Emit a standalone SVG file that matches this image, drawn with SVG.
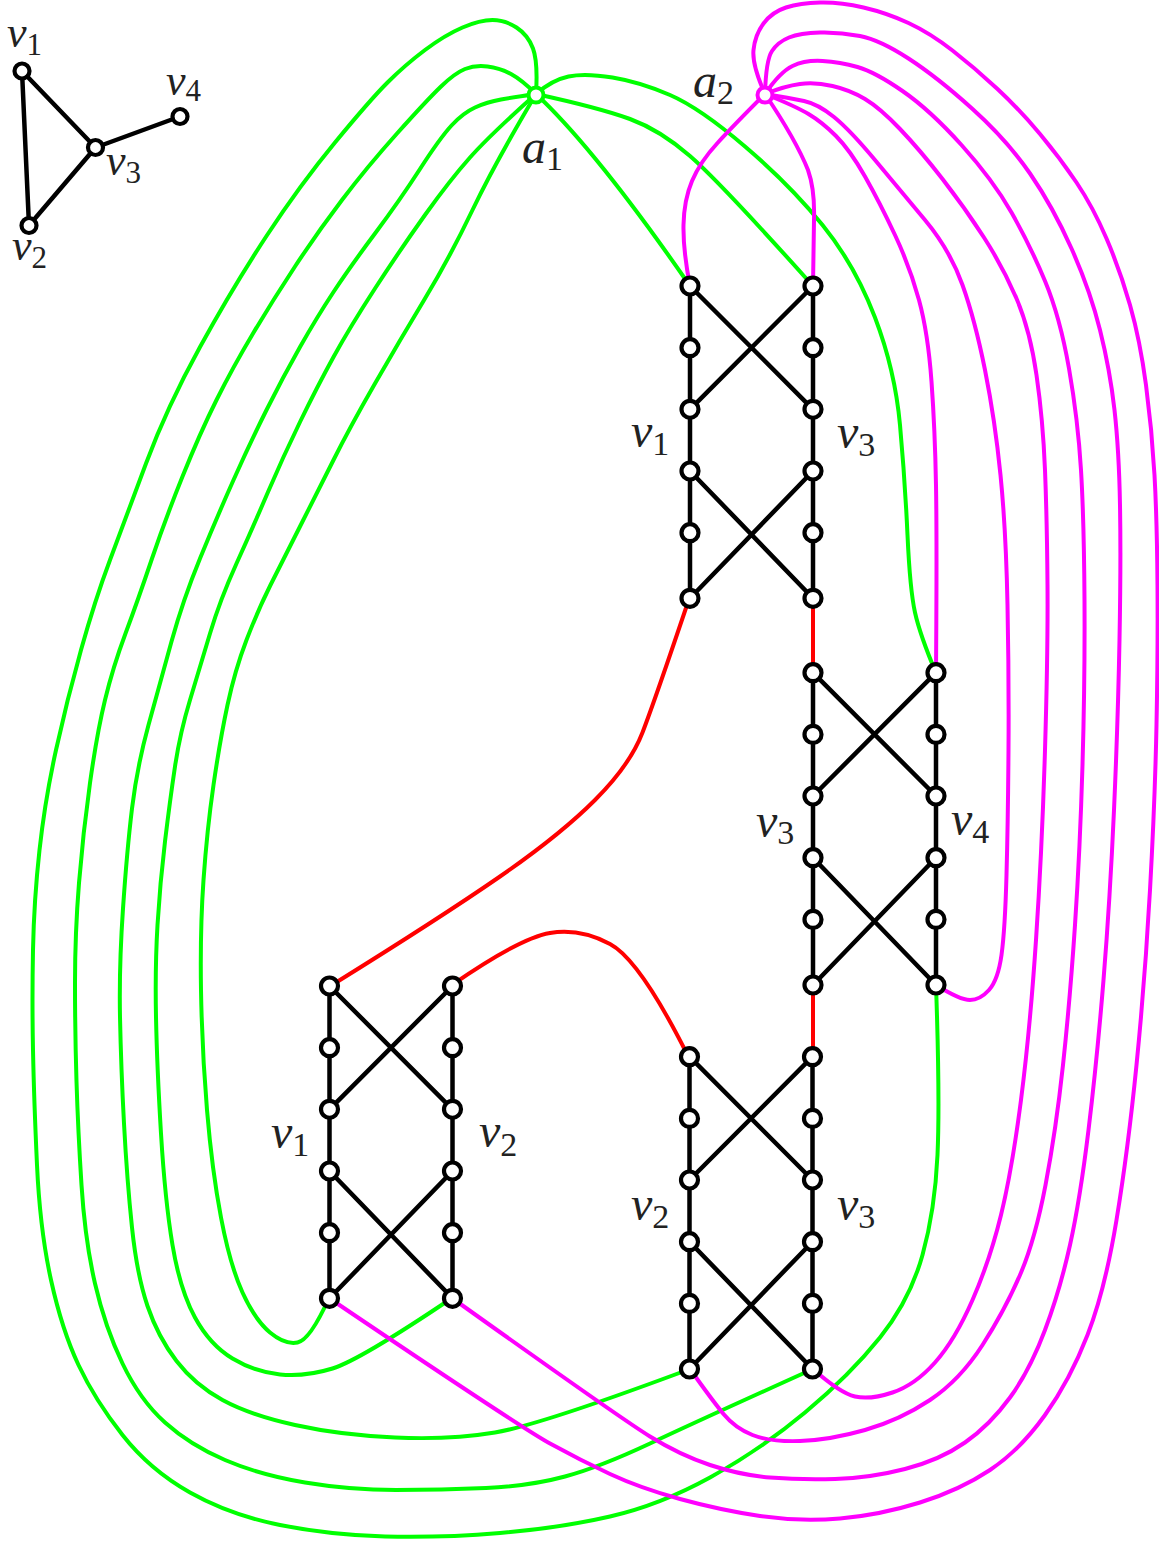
<svg xmlns="http://www.w3.org/2000/svg" width="1159" height="1543" viewBox="0 0 1159 1543">
<style>
.g{fill:none;stroke:#00ff00;stroke-width:4;stroke-linecap:round;stroke-linejoin:round}
.m{fill:none;stroke:#ff00ff;stroke-width:4;stroke-linecap:round;stroke-linejoin:round}
.r{fill:none;stroke:#ff0000;stroke-width:4;stroke-linecap:round}
.e{fill:none;stroke:#000;stroke-width:4.5;stroke-linecap:round}
.n{fill:#fff;stroke:#000;stroke-width:4.2}
.lb{font-family:"Liberation Serif",serif;font-style:italic;font-size:48px;fill:#222}
.ls{font-family:"Liberation Serif",serif;font-style:italic;font-size:44px;fill:#222}
.sb{font-style:normal;font-size:34px}
.ss{font-style:normal;font-size:31px}
</style>
<defs>
<g id="gadget">
<path class="e" d="M0,0V312.3M123,0V312.3M0,0L123,123.3M123,0L0,123.3M0,185L123,312.3M123,185L0,312.3"/>
<circle class="n" cx="0" cy="0" r="8.5"/><circle class="n" cx="0" cy="61.7" r="8.5"/><circle class="n" cx="0" cy="123.3" r="8.5"/><circle class="n" cx="0" cy="185" r="8.5"/><circle class="n" cx="0" cy="246.7" r="8.5"/><circle class="n" cx="0" cy="312.3" r="8.5"/>
<circle class="n" cx="123" cy="0" r="8.5"/><circle class="n" cx="123" cy="61.7" r="8.5"/><circle class="n" cx="123" cy="123.3" r="8.5"/><circle class="n" cx="123" cy="185" r="8.5"/><circle class="n" cx="123" cy="246.7" r="8.5"/><circle class="n" cx="123" cy="312.3" r="8.5"/>
</g>
</defs>
<g id="connectors">
<path class="r" d="M688,602 Q655,700 642.5,732.5 Q630,765 595,800 Q560,835 500,876.5 Q440,918 332,985"/>
<path class="r" d="M452,985 Q520,938 550,933 Q580,928 610,944 Q640,960 688,1056"/>
<path class="r" d="M813,598V673M813,985V1056"/>
<path class="g" d="M536,94 Q596,150 690,286"/>
<path class="g" d="M536,94 Q600,108 630,119 Q660,130 690,156 Q720,182 813,286"/>
<path class="g" d="M536,94 Q552,80 568.5,76.5 Q585,73 612.5,77.5 Q640,82 670,95 Q700,108 745,146.5 Q790,185 822.5,225 Q855,265 875,317.5 Q895,370 900,425 Q905,480 907.5,535 Q910,590 915,612.5 Q920,635 936,673"/>
<path class="g" d="M536,94 Q538,62 533,48.5 Q528,35 516.5,27.5 Q505,20 492.5,20 Q480,20 462.5,27.5 Q445,35 425,50 Q405,65 387.5,82.5 Q370,100 335,142.5 Q300,185 266.5,236 Q233,287 200,347 Q167,407 146,463.5 Q125,520 110,560 Q95,600 81,650 Q67,700 56,750 Q45,800 39.5,850 Q34,900 33,950 Q32,1000 33,1050 Q34,1100 37,1165 Q40,1230 51,1280 Q62,1330 78.5,1365 Q95,1400 122.5,1435 Q150,1470 190,1492.5 Q230,1515 280,1525 Q330,1535 385,1536.5 Q440,1538 500,1533 Q560,1528 610,1516.5 Q660,1505 710,1477.5 Q760,1450 805,1412.5 Q850,1375 880,1337.5 Q910,1300 922.5,1255 Q935,1210 937.5,1155 Q940,1100 936,985"/>
<path class="g" d="M536,94 Q522,80 511,74 Q500,68 487.5,66.5 Q475,65 465,69 Q455,73 441,86.5 Q427,100 397,133.5 Q367,167 342,200 Q317,233 295,266.5 Q273,300 253,333.5 Q233,367 216.5,400 Q200,433 182.5,476.5 Q165,520 151.5,560 Q138,600 125.5,633.5 Q113,667 105,700 Q97,733 90,783 Q83,833 79,883 Q75,933 75,983 Q75,1033 76.5,1081.5 Q78,1130 81.5,1185 Q85,1240 95,1283.5 Q105,1327 122.5,1363.5 Q140,1400 165,1422.5 Q190,1445 225,1460 Q260,1475 305,1482.5 Q350,1490 396,1490 Q442,1490 486,1488 Q530,1486 565,1476.5 Q600,1467 650,1443.5 Q700,1420 813,1369"/>
<path class="g" d="M536,94 Q515,97 501,99.5 Q487,102 475,107.5 Q463,113 451.5,125.5 Q440,138 420,169 Q400,200 375,233.5 Q350,267 333.5,292 Q317,317 300,347 Q283,377 266.5,410 Q250,443 233.5,480 Q217,517 200,558.5 Q183,600 171.5,641.5 Q160,683 148.5,725 Q137,767 132,808.5 Q127,850 123,908.5 Q119,967 120,1017 Q121,1067 124,1123.5 Q127,1180 132,1227.5 Q137,1275 147.5,1306 Q158,1337 176.5,1361 Q195,1385 222.5,1400 Q250,1415 295,1425 Q340,1435 395,1437.5 Q450,1440 495,1432.5 Q540,1425 690,1369"/>
<path class="g" d="M536,94 Q490,135 470,157.5 Q450,180 425,215 Q400,250 375,288.5 Q350,327 333.5,357 Q317,387 300,422 Q283,457 268,492 Q253,527 236.5,563.5 Q220,600 210,633.5 Q200,667 190,700 Q180,733 175,766.5 Q170,800 165,841.5 Q160,883 157.5,925 Q155,967 156,1017 Q157,1067 161,1133.5 Q165,1200 172.5,1245 Q180,1290 195,1317.5 Q210,1345 232.5,1358.5 Q255,1372 280,1374.5 Q305,1377 332.5,1368.5 Q360,1360 452,1298"/>
<path class="g" d="M536,94 Q495,163 472.5,210 Q450,257 425,298.5 Q400,340 375,383.5 Q350,427 333.5,460 Q317,493 300,526.5 Q283,560 270.5,585 Q258,610 246.5,640 Q235,670 227.5,705 Q220,740 213.5,785 Q207,830 203.5,880 Q200,930 201,990 Q202,1050 207,1110 Q212,1170 221,1217.5 Q230,1265 242.5,1292.5 Q255,1320 270,1332.5 Q285,1345 297.5,1342.5 Q310,1340 329,1298"/>
<path class="m" d="M765,94 Q735,124 717.5,143 Q700,162 692,181 Q684,200 683.5,225 Q683,250 690,286"/>
<path class="m" d="M765,94 Q796,140 808,170 Q815,190 814,220 L813,286"/>
<path class="m" d="M765,94 Q752,65 753.5,50 Q755,35 763.5,23.5 Q772,12 786,7.5 Q800,3 820,2.5 Q840,2 863.5,7.5 Q887,13 908.5,23 Q930,33 952.5,50.5 Q975,68 997.5,89 Q1020,110 1040,134 Q1060,158 1076.5,182.5 Q1093,207 1106.5,238.5 Q1120,270 1130,305 Q1140,340 1146,385 Q1152,430 1154.5,475 Q1157,520 1157.5,585 Q1158,650 1156.5,725 Q1155,800 1150,890 Q1145,980 1136.5,1065 Q1128,1150 1116.5,1220 Q1105,1290 1087.5,1335 Q1070,1380 1045,1415 Q1020,1450 990,1470 Q960,1490 920,1502.5 Q880,1515 840,1518.5 Q800,1522 760,1516 Q720,1510 680,1499 Q640,1488 610,1474 Q580,1460 550,1443.5 Q520,1427 329,1298"/>
<path class="m" d="M765,94 Q766,60 772,51 Q778,42 789,37.5 Q800,33 820,32.5 Q840,32 860,36 Q880,40 908.5,58.5 Q937,77 972,108.5 Q1007,140 1030,173.5 Q1053,207 1071.5,248.5 Q1090,290 1100,330 Q1110,370 1114.5,410 Q1119,450 1120,505 Q1121,560 1119.5,640 Q1118,720 1114,810 Q1110,900 1103.5,980 Q1097,1060 1088.5,1130 Q1080,1200 1070,1245 Q1060,1290 1045,1330 Q1030,1370 1010,1397.5 Q990,1425 965,1442.5 Q940,1460 905,1469 Q870,1478 835,1479 Q800,1480 770,1477.5 Q740,1475 710,1465 Q680,1455 650,1436.5 Q620,1418 452,1298"/>
<path class="m" d="M765,94 Q780,72 792.5,66 Q805,60 822.5,61 Q840,62 857.5,67 Q875,72 902.5,91 Q930,110 961.5,145 Q993,180 1011.5,212.5 Q1030,245 1045,281 Q1060,317 1069,368.5 Q1078,420 1081,470 Q1084,520 1084.5,600 Q1085,680 1082.5,765 Q1080,850 1075,925 Q1070,1000 1063,1065 Q1056,1130 1045.5,1185 Q1035,1240 1020,1275 Q1005,1310 982.5,1345 Q960,1380 930,1400 Q900,1420 865,1430 Q830,1440 800,1441 Q770,1442 752.5,1435 Q735,1428 723.5,1414 Q712,1400 690,1369"/>
<path class="m" d="M765,94 Q785,86 800,84 Q815,82 832.5,86 Q850,90 865,99 Q880,108 900,129 Q920,150 942.5,179 Q965,208 984,237.5 Q1003,267 1016.5,298.5 Q1030,330 1036.5,375 Q1043,420 1045,470 Q1047,520 1047.5,585 Q1048,650 1045,750 Q1042,850 1036,940 Q1030,1030 1021,1100 Q1012,1170 1001,1215 Q990,1260 972.5,1300 Q955,1340 935,1362.5 Q915,1385 892.5,1392.5 Q870,1400 855,1396.5 Q840,1393 813,1369"/>
<path class="m" d="M765,94 Q790,98 804,101 Q818,104 834,117 Q850,130 875,160 Q900,190 925,220 Q950,250 962.5,285 Q975,320 985,370 Q995,420 1000.5,475 Q1006,530 1007.5,605 Q1009,680 1008.5,750 Q1008,820 1006.5,875 Q1005,930 1001.5,955 Q998,980 989,990 Q980,1000 970,1000 Q960,1000 936,985"/>
<path class="m" d="M765,94 Q795,106 808.5,114 Q822,122 836,136 Q850,150 865,176.5 Q880,203 895,235 Q910,267 919,300 Q928,333 931.5,381.5 Q935,430 936,485 Q937,540 936,673"/>
</g>
<g id="small-graph">
<path class="e" d="M22,71L29,225.5L95.5,147.5L22,71M95.5,147.5L180,116.5"/>
<circle class="n" cx="22" cy="71" r="7.5"/>
<circle class="n" cx="29" cy="225.5" r="7.5"/>
<circle class="n" cx="95.5" cy="147.5" r="7.5"/>
<circle class="n" cx="180" cy="116.5" r="7.5"/>
<text class="ls" x="7" y="47">v<tspan class="ss" dy="8">1</tspan></text>
<text class="ls" x="12" y="260">v<tspan class="ss" dy="8">2</tspan></text>
<text class="ls" x="106" y="175">v<tspan class="ss" dy="8">3</tspan></text>
<text class="ls" x="166" y="95">v<tspan class="ss" dy="6">4</tspan></text>
</g>
<g id="a1">
<circle cx="536" cy="95" r="7.5" fill="#fff" stroke="#00ff00" stroke-width="4"/>
<text class="lb" x="522" y="163">a<tspan class="sb" dy="7">1</tspan></text>
</g>
<g id="a2">
<circle cx="765" cy="95" r="7.5" fill="#fff" stroke="#ff00ff" stroke-width="4"/>
<text class="lb" x="693" y="97">a<tspan class="sb" dy="7">2</tspan></text>
</g>
<g id="gadget-v1-v3">
<use href="#gadget" x="690" y="286"/>
<text class="lb" x="631" y="447">v<tspan class="sb" dy="8">1</tspan></text>
<text class="lb" x="837" y="448">v<tspan class="sb" dy="8">3</tspan></text>
</g>
<g id="gadget-v3-v4">
<use href="#gadget" x="813" y="672.7"/>
<text class="lb" x="756" y="837">v<tspan class="sb" dy="7">3</tspan></text>
<text class="lb" x="951" y="835">v<tspan class="sb" dy="8">4</tspan></text>
</g>
<g id="gadget-v1-v2">
<use href="#gadget" x="329.5" y="986"/>
<text class="lb" x="271" y="1148">v<tspan class="sb" dy="8">1</tspan></text>
<text class="lb" x="479" y="1147">v<tspan class="sb" dy="9">2</tspan></text>
</g>
<g id="gadget-v2-v3">
<use href="#gadget" x="689.5" y="1056.7"/>
<text class="lb" x="631" y="1220">v<tspan class="sb" dy="8">2</tspan></text>
<text class="lb" x="837" y="1220">v<tspan class="sb" dy="8">3</tspan></text>
</g>
</svg>
